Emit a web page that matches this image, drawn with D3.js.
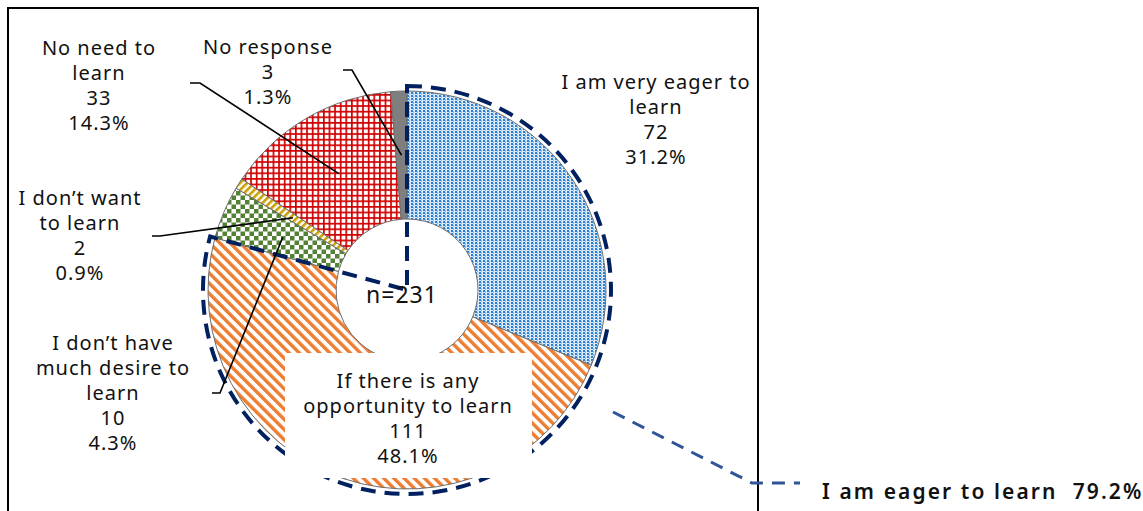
<!DOCTYPE html>
<html>
<head>
<meta charset="utf-8">
<script src="https://cdn.jsdelivr.net/npm/d3@7"></script>
<style>
  html, body { margin: 0; padding: 0; background: #fff; }
  svg { display: block; }
  text { font-family: "Noto Sans", "Open Sans", sans-serif; fill: #111; }
</style>
</head>
<body>
<svg id="chart" width="1143" height="511"></svg>
<script>
// ---- data ----
const categories = [
  "I am very eager to learn",
  "If there is any opportunity to learn",
  "I don't have much desire to learn",
  "I don't want to learn",
  "No need to learn",
  "No response"
];
const counts = [72, 111, 10, 2, 33, 3];
const percentLabels = ["31.2%", "48.1%", "4.3%", "0.9%", "14.3%", "1.3%"];
const totalLabel = "n=231";
const groupLabel = "I am eager to learn";
const groupPercent = "79.2%";
const groupMembers = [0, 1];

// ---- layout (positions / styles, not data) ----
const W = 1143, H = 511;
const cx = 407, cy = 290, rOuter = 199, rInner = 71;
const labelLines = [
  ["I am very eager to", "learn"],
  ["If there is any", "opportunity to learn"],
  ["I don\u2019t have", "much desire to", "learn"],
  ["I don\u2019t want", "to learn"],
  ["No need to", "learn"],
  ["No response"]
];
const labelPos = [
  {x: 656, y: 89},
  {x: 408, y: 388},
  {x: 113, y: 350},
  {x: 80, y: 205},
  {x: 99, y: 55},
  {x: 268, y: 54}
];
// leader: [outer start point, elbow]
const leaders = [
  null,
  null,
  [[212, 393], [220, 393]],
  [[152, 236], [160, 236]],
  [[190, 83], [200, 83]],
  [[343, 70], [352, 70]]
];
const lineH = 25;

const svg = d3.select("#chart");
const defs = svg.append("defs");

// patterns
// blue dotted
const pBlue = defs.append("pattern").attr("id", "pBlue").attr("patternUnits", "userSpaceOnUse")
  .attr("width", 4).attr("height", 3);
pBlue.append("rect").attr("width", 4).attr("height", 3).attr("fill", "#dcebf9");
pBlue.append("rect").attr("x", 0).attr("y", 0).attr("width", 2).attr("height", 2).attr("fill", "#2a7fd2");
pBlue.append("rect").attr("x", 2).attr("y", 1).attr("width", 1).attr("height", 2).attr("fill", "#86bbec");

// orange diagonal stripes "\"
const pOrange = defs.append("pattern").attr("id", "pOrange").attr("patternUnits", "userSpaceOnUse")
  .attr("width", 7.2).attr("height", 10).attr("patternTransform", "rotate(-45)");
pOrange.append("rect").attr("width", 7.2).attr("height", 10).attr("fill", "#fff");
pOrange.append("rect").attr("width", 3.4).attr("height", 10).attr("fill", "#ED7D31");

// green checkerboard
const pGreen = defs.append("pattern").attr("id", "pGreen").attr("patternUnits", "userSpaceOnUse")
  .attr("width", 9).attr("height", 9);
pGreen.append("rect").attr("width", 9).attr("height", 9).attr("fill", "#fff");
pGreen.append("rect").attr("width", 4.5).attr("height", 4.5).attr("fill", "#548235");
pGreen.append("rect").attr("x", 4.5).attr("y", 4.5).attr("width", 4.5).attr("height", 4.5).attr("fill", "#548235");

// gold stripes "/"
const pGold = defs.append("pattern").attr("id", "pGold").attr("patternUnits", "userSpaceOnUse")
  .attr("width", 5).attr("height", 10).attr("patternTransform", "rotate(45)");
pGold.append("rect").attr("width", 5).attr("height", 10).attr("fill", "#fff");
pGold.append("rect").attr("width", 2.6).attr("height", 10).attr("fill", "#C9A000");

// red grid
const pRed = defs.append("pattern").attr("id", "pRed").attr("patternUnits", "userSpaceOnUse")
  .attr("width", 5.6).attr("height", 5.6);
pRed.append("rect").attr("width", 5.6).attr("height", 5.6).attr("fill", "#fff");
pRed.append("rect").attr("width", 1.7).attr("height", 5.6).attr("fill", "#D00000");
pRed.append("rect").attr("width", 5.6).attr("height", 1.7).attr("fill", "#D00000");

const fills = ["url(#pBlue)", "url(#pOrange)", "url(#pGreen)", "url(#pGold)", "url(#pRed)", "#7f7f7f"];

// frame
svg.append("rect").attr("x", 8).attr("y", 8).attr("width", 750).attr("height", 530)
  .attr("fill", "none").attr("stroke", "#000").attr("stroke-width", 2);

const pie = d3.pie().sort(null).startAngle(0).endAngle(2 * Math.PI);
const arcs = pie(counts);
const arc = d3.arc().innerRadius(rInner).outerRadius(rOuter);

const g = svg.append("g").attr("transform", `translate(${cx},${cy})`);
g.selectAll("path.slice").data(arcs).join("path")
  .attr("class", "slice")
  .attr("d", arc)
  .attr("fill", (d, i) => fills[i])
  .attr("stroke", "#6e6e6e")
  .attr("stroke-width", 1);

// label box for big slice (white background)
svg.append("rect").attr("x", 285).attr("y", 353).attr("width", 247).attr("height", 125)
  .attr("fill", "#fff");

// group dashed outline
const total = d3.sum(counts);
const groupSum = d3.sum(groupMembers.map(i => counts[i]));
const groupArc = d3.arc().innerRadius(0).outerRadius(204)
  .startAngle(0).endAngle(groupSum / total * 2 * Math.PI);
g.append("path").attr("d", groupArc())
  .attr("fill", "none").attr("stroke", "#002060").attr("stroke-width", 4)
  .attr("stroke-dasharray", "15 9");

// leader lines
function polar(angle, r) { return [cx + r * Math.sin(angle), cy - r * Math.cos(angle)]; }
arcs.forEach((d, i) => {
  if (!leaders[i]) return;
  const mid = (d.startAngle + d.endAngle) / 2;
  const end = polar(mid, 135);
  svg.append("path")
    .attr("d", d3.line()([leaders[i][0], leaders[i][1], end]))
    .attr("fill", "none").attr("stroke", "#000").attr("stroke-width", 1.6);
});

// labels
arcs.forEach((d, i) => {
  const lines = labelLines[i].concat([String(counts[i]), percentLabels[i]]);
  const t = svg.append("text")
    .attr("text-anchor", "middle")
    .attr("font-size", 20)
    .attr("letter-spacing", 1);
  lines.forEach((ln, k) => {
    t.append("tspan").attr("x", labelPos[i].x).attr("y", labelPos[i].y + k * lineH).text(ln);
  });
});

// center total
svg.append("text").attr("x", 402).attr("y", 303).attr("text-anchor", "middle")
  .attr("font-size", 23).attr("letter-spacing", 1).text(totalLabel);

// group legend callout
svg.append("path")
  .attr("d", d3.line()([[613, 412], [752, 483], [800, 483]]))
  .attr("fill", "none").attr("stroke", "#2F5597").attr("stroke-width", 3)
  .attr("stroke-dasharray", "13 9");
svg.append("text").attr("x", 822).attr("y", 499)
  .attr("font-size", 21).attr("font-weight", 600).attr("letter-spacing", 2.1)
  .attr("xml:space", "preserve")
  .text(groupLabel + "  " + groupPercent);
</script>
</body>
</html>
